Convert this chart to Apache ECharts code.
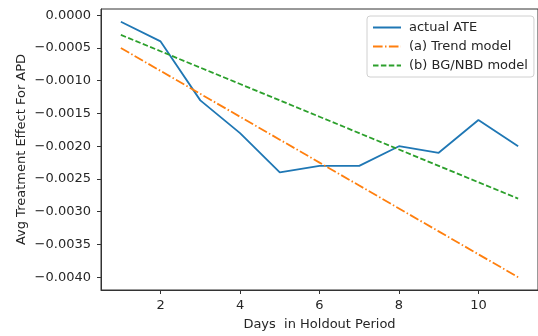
<!DOCTYPE html>
<html>
<head>
<meta charset="utf-8">
<script src="https://cdn.jsdelivr.net/npm/echarts@6/dist/echarts.min.js"></script>
<style>
  html, body { margin: 0; padding: 0; background: #fff; }
  #chart { width: 538px; height: 336px; }
</style>
</head>
<body>
<div id="chart"></div>
<script>
// days in holdout period
var days = [1, 2, 3, 4, 5, 6, 7, 8, 9, 10, 11];
var actualATE = [-0.0001, -0.0004, -0.0013, -0.0018, -0.0024, -0.0023, -0.0023, -0.0020, -0.0021, -0.0016, -0.0020];
var trendModel = [-0.0005, -0.00085, -0.0012, -0.00155, -0.0019, -0.00225, -0.0026, -0.00295, -0.0033, -0.00365, -0.0040];
var bgnbdModel = [-0.0003, -0.00055, -0.0008, -0.00105, -0.0013, -0.00155, -0.0018, -0.00205, -0.0023, -0.00255, -0.0028];
var xTicks = [2, 4, 6, 8, 10];
var yTicks = [0, -0.0005, -0.001, -0.0015, -0.002, -0.0025, -0.003, -0.0035, -0.004];

var font = "DejaVu Sans";
var textColor = "#262626";

function pairs(ys) {
  return days.map(function (d, i) { return [d, ys[i]]; });
}

var myChart = echarts.init(document.getElementById("chart"));
myChart.setOption({
  animation: false,
  textStyle: { fontFamily: font },
  grid: {
    left: 101, top: 9, right: 0, bottom: 41,
    show: true, borderColor: "#333", borderWidth: 1
  },
  legend: {
    orient: "vertical",
    left: 367, top: 16,
    padding: [5, 6, 5, 5],
    itemGap: 6,
    itemWidth: 28,
    itemHeight: 14,
    backgroundColor: "#fff",
    borderColor: "#d0d0d0",
    borderWidth: 1,
    borderRadius: 3,
    itemStyle: { opacity: 0 },
    textStyle: { fontFamily: font, fontSize: 13, color: textColor, padding: [0, 0, 0, 3] },
    data: ["actual ATE", "(a) Trend model", "(b) BG/NBD model"]
  },
  xAxis: {
    type: "value",
    min: 0.5, max: 11.5,
    name: "Days  in Holdout Period",
    nameLocation: "middle",
    nameGap: 28,
    nameMoveOverlap: false,
    nameTextStyle: { fontFamily: font, fontSize: 13, color: textColor },
    splitLine: { show: false },
    axisLine: { show: true, onZero: false, lineStyle: { color: "#333" } },
    axisTick: { show: true, length: 4, customValues: xTicks, lineStyle: { color: "#333" } },
    axisLabel: {
      customValues: xTicks, margin: 9,
      fontFamily: font, fontSize: 13, color: textColor
    }
  },
  yAxis: {
    type: "value",
    min: -0.004195, max: 0.000095,
    name: "Avg Treatment Effect For APD",
    nameLocation: "middle",
    nameGap: 73,
    nameMoveOverlap: false,
    nameTextStyle: { fontFamily: font, fontSize: 13, color: textColor },
    splitLine: { show: false },
    axisLine: { show: true, onZero: false, lineStyle: { color: "#333" } },
    axisTick: { show: true, length: 4, customValues: yTicks, lineStyle: { color: "#333" } },
    axisLabel: {
      customValues: yTicks, margin: 10,
      fontFamily: font, fontSize: 13, color: textColor,
      formatter: function (v) {
        var s = Math.abs(v).toFixed(4);
        return v < -1e-9 ? "\u2212" + s : s;
      }
    }
  },
  series: [
    {
      name: "actual ATE", type: "line", data: pairs(actualATE),
      symbol: "none", color: "#1f77b4",
      lineStyle: { width: 1.8, color: "#1f77b4" }
    },
    {
      name: "(a) Trend model", type: "line", data: pairs(trendModel),
      symbol: "none", color: "#ff7f0e",
      lineStyle: { width: 1.8, color: "#ff7f0e", type: [9.6, 2.4, 1.5, 2.4] }
    },
    {
      name: "(b) BG/NBD model", type: "line", data: pairs(bgnbdModel),
      symbol: "none", color: "#2ca02c",
      lineStyle: { width: 1.8, color: "#2ca02c", type: [5.5, 2.4] }
    }
  ]
});
</script>
</body>
</html>
